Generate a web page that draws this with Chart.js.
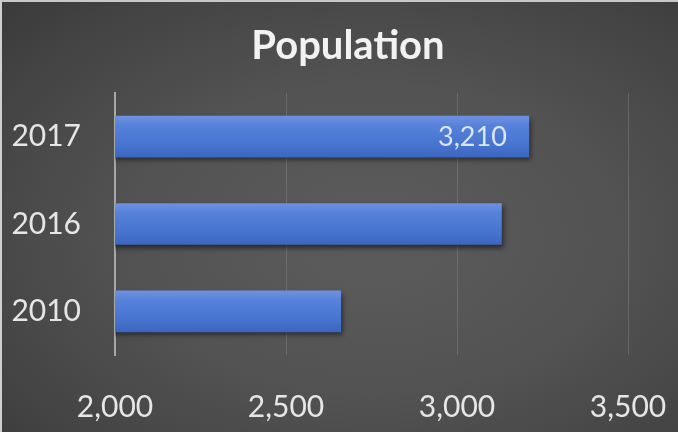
<!DOCTYPE html>
<html>
<head>
<meta charset="utf-8">
<script src="https://cdn.jsdelivr.net/npm/chart.js@4"></script>
<style>
  html, body { margin: 0; padding: 0; }
  body {
    width: 678px; height: 432px; overflow: hidden;
    background: radial-gradient(ellipse at 55% 55%, #5c5c5c 0%, #535353 45%, #444 80%, #3a3a3a 100%);
  }
  #wrap {
    position: absolute; left: 0; top: 0; width: 678px; height: 432px;
    box-sizing: border-box; border-left: 2px solid #cfcfcf; border-top: 2px solid #c8c8c8;
  }
  canvas { position: absolute; left: 0; top: 0; }
</style>
</head>
<body>
<div id="wrap"></div>
<canvas id="popChart" width="678" height="432"></canvas>
<script>
// data
const years = ['2017', '2016', '2010'];
const population = [3210, 3130, 2660];
const labelled = [true, false, false]; // only 2017 shows its value
const xTicks = [2000, 2500, 3000, 3500];

const FONT = 'Lato, "Open Sans", sans-serif';

// bar shadow, data label, title nudge
const barExtras = {
  id: 'barExtras',
  afterLayout(chart) {
    // title sits a bit right of the canvas centre in the original
    if (chart.titleBlock) { chart.titleBlock.left = 18; chart.titleBlock.right = 678; }
  },
  beforeDatasetDraw(chart) {
    const ctx = chart.ctx;
    ctx.save();
    ctx.shadowColor = 'rgba(0,0,0,0.55)';
    ctx.shadowBlur = 5;
    ctx.shadowOffsetX = 2;
    ctx.shadowOffsetY = 3;
  },
  afterDatasetDraw(chart) {
    chart.ctx.restore();
  },
  afterDatasetsDraw(chart) {
    const ctx = chart.ctx;
    const meta = chart.getDatasetMeta(0);
    ctx.save();
    ctx.font = '27px ' + FONT;
    ctx.fillStyle = '#dde6f7';
    ctx.textAlign = 'right';
    ctx.textBaseline = 'middle';
    meta.data.forEach((bar, i) => {
      if (!labelled[i]) return;
      ctx.fillText(population[i].toLocaleString('en-US'), bar.x - 22, bar.y + 1);
    });
    ctx.restore();
  }
};

function barFill(c) {
  const chart = c.chart;
  const yScale = chart.scales.y;
  if (!yScale || c.dataIndex === undefined) return '#4a76d0';
  const mid = yScale.getPixelForValue(c.dataIndex);
  if (!isFinite(mid)) return '#4a76d0';
  const g = chart.ctx.createLinearGradient(0, mid - 21, 0, mid + 21);
  g.addColorStop(0, '#6f92e2');
  g.addColorStop(0.25, '#5581d9');
  g.addColorStop(0.7, '#4774cf');
  g.addColorStop(1, '#3b66bf');
  return g;
}

new Chart(document.getElementById('popChart'), {
  type: 'bar',
  data: {
    labels: years,
    datasets: [{
      data: population,
      backgroundColor: barFill,
      borderWidth: 0,
      barThickness: 41
    }]
  },
  options: {
    indexAxis: 'y',
    responsive: false,
    animation: false,
    layout: { padding: { left: 0, right: 0, top: 0, bottom: 0 } },
    plugins: {
      legend: { display: false },
      tooltip: { enabled: false },
      title: {
        display: true,
        text: 'Population',
        color: '#f2f2f2',
        font: { family: FONT, size: 40, weight: 'bold', lineHeight: 1.2 },
        padding: { top: 22, bottom: 23 }
      }
    },
    scales: {
      x: {
        min: 2000,
        max: 3500,
        afterBuildTicks(s) { s.ticks = xTicks.map(v => ({ value: v })); },
        afterFit(s) { s.height = 77; s.paddingLeft = 0; s.paddingRight = 50; },
        grid: { color: 'rgba(140,140,140,0.4)', drawTicks: false, lineWidth: 1 },
        border: { display: false },
        ticks: {
          color: '#e6e6e6',
          padding: 34,
          font: { family: FONT, size: 30 },
          callback: v => v.toLocaleString('en-US')
        }
      },
      y: {
        afterFit(s) { s.width = 115; },
        grid: { display: false, drawTicks: false },
        border: { display: true, color: '#a8a8a8', width: 2 },
        ticks: {
          color: '#e6e6e6',
          padding: 34,
          font: { family: FONT, size: 30 }
        }
      }
    }
  },
  plugins: [barExtras]
});
</script>
</body>
</html>
